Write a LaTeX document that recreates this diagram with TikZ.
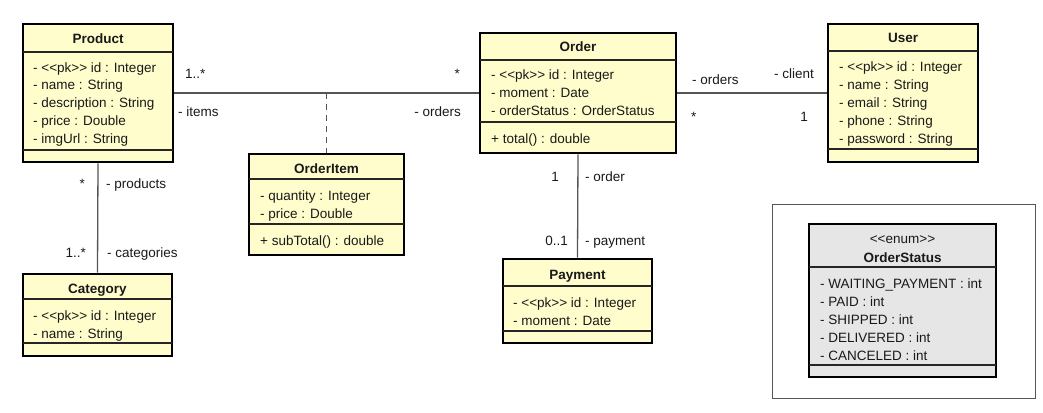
\documentclass[tikz,border=0pt]{standalone}
\usepackage{fontspec}
\setmainfont{Liberation Sans}[Ligatures=TeXOff]
\definecolor{clsfill}{RGB}{255,253,204}
\definecolor{enumfill}{RGB}{230,230,230}
\definecolor{lncol}{RGB}{85,85,85}
\definecolor{txt}{RGB}{25,25,25}
\begin{document}
\begin{tikzpicture}[x=1pt,y=-1pt,
  every node/.style={font=\fontsize{13.5pt}{18pt}\selectfont, text=txt},
  cls/.style={draw=black, line width=2.6pt, fill=clsfill, rectangle, inner sep=0pt},
  enumcls/.style={cls, fill=enumfill},
  sep/.style={draw=black!85, line width=1.2pt},
  attr/.style={anchor=base west, inner sep=0pt},
  ttl/.style={anchor=base, inner sep=0pt, font=\fontsize{13.5pt}{18pt}\selectfont\bfseries},
  lbl/.style={inner sep=0pt},
  assoc/.style={draw=lncol, line width=1.3pt}]
\useasboundingbox (0,0) rectangle (1043,412);

% ---------- Product
\node[cls, minimum width=150pt, minimum height=138pt] (prod) at (98,93) {};
\draw[sep] (23,52) -- (173,52);
\draw[sep] (23,150) -- (173,150);
\node[ttl] (prodt) at (98,44) {Product};
\node[attr] (prod1) at (33,72) {- <<pk>> id : Integer};
\node[attr] (prod2) at (33,89.5) {- name : String};
\node[attr] (prod3) at (33,107) {- description : String};
\node[attr] (prod4) at (33,125) {- price : Double};
\node[attr] (prod5) at (33,143) {- imgUrl : String};

% ---------- Order
\node[cls, minimum width=196pt, minimum height=120pt] (order) at (578,93) {};
\draw[sep] (480,60) -- (676,60);
\draw[sep] (480,122) -- (676,122);
\node[ttl] (ordert) at (578,52) {Order};
\node[attr] (order1) at (491,79) {- <<pk>> id : Integer};
\node[attr] (order2) at (491,97) {- moment : Date};
\node[attr] (order3) at (491,115) {- orderStatus : OrderStatus};
\node[attr] (order4) at (491,143) {+ total() : double};

% ---------- User
\node[cls, minimum width=150pt, minimum height=138pt] (user) at (903,93) {};
\draw[sep] (828,51) -- (978,51);
\draw[sep] (828,149) -- (978,149);
\node[ttl] (usert) at (903,43) {User};
\node[attr] (user1) at (839,71) {- <<pk>> id : Integer};
\node[attr] (user2) at (839,89) {- name : String};
\node[attr] (user3) at (839,107) {- email : String};
\node[attr] (user4) at (839,125) {- phone : String};
\node[attr] (user5) at (839,143) {- password : String};

% ---------- OrderItem
\node[cls, minimum width=155pt, minimum height=101pt] (oi) at (326.5,204.5) {};
\draw[sep] (249,179) -- (404,179);
\draw[sep] (249,224) -- (404,224);
\node[ttl] (oit) at (326.5,173) {OrderItem};
\node[attr] (oi1) at (260,200) {- quantity : Integer};
\node[attr] (oi2) at (260,218) {- price : Double};
\node[attr] (oi3) at (260,245) {+ subTotal() : double};

% ---------- Category
\node[cls, minimum width=149pt, minimum height=82pt] (cat) at (97.5,315) {};
\draw[sep] (23,299) -- (172,299);
\draw[sep] (23,343) -- (172,343);
\node[ttl] (catt) at (97.5,293) {Category};
\node[attr] (cat1) at (33,320) {- <<pk>> id : Integer};
\node[attr] (cat2) at (33,338) {- name : String};

% ---------- Payment
\node[cls, minimum width=149pt, minimum height=84pt] (pay) at (577.5,301) {};
\draw[sep] (503,286) -- (652,286);
\draw[sep] (503,331) -- (652,331);
\node[ttl] (payt) at (577.5,279) {Payment};
\node[attr] (pay1) at (513,307) {- <<pk>> id : Integer};
\node[attr] (pay2) at (513,325) {- moment : Date};

% ---------- OrderStatus (enum) in frame
\node[draw=lncol, line width=0.8pt, rectangle, inner sep=0pt, minimum width=263pt, minimum height=194pt] (frame) at (903.5,301) {};
\node[enumcls, minimum width=187pt, minimum height=153pt] (os) at (902.5,300.5) {};
\draw[sep] (809,267) -- (996,267);
\draw[sep] (809,365) -- (996,365);
\node[anchor=base, inner sep=0pt] (osst) at (902.5,243) {<<enum>>};
\node[ttl] (ost) at (902.5,262) {OrderStatus};
\node[attr] (os1) at (820,288) {- WAITING\_PAYMENT : int};
\node[attr] (os2) at (820,306) {- PAID : int};
\node[attr] (os3) at (820,324) {- SHIPPED : int};
\node[attr] (os4) at (820,342) {- DELIVERED : int};
\node[attr] (os5) at (820,360) {- CANCELED : int};

% ---------- Associations
\draw[assoc] (prod.east) -- coordinate[midway] (oimid) (order.west);
\draw[assoc, dash pattern=on 6pt off 5pt] (oimid) -- (oi.north);
\draw[assoc] (order.east) -- (user.west);
\draw[assoc] (prod.south) -- (cat.north);
\draw[assoc] (order.south) -- (pay.north);

% ---------- Association labels
\node[lbl, anchor=base west] (l1) at (185,78) {1..*};
\node[lbl, anchor=base west] (l2) at (178,116) {- items};
\node[lbl, anchor=base east] (l3) at (460,78) {*};
\node[lbl, anchor=base east] (l4) at (461,116) {- orders};
\node[lbl, anchor=base west] (l5) at (692,84) {- orders};
\node[lbl, anchor=base west] (l6) at (774,78) {- client};
\node[lbl, anchor=base west] (l7) at (691,121) {*};
\node[lbl, anchor=base] (l8) at (804,121) {1};
\node[lbl, anchor=base] (l9) at (555,181) {1};
\node[lbl, anchor=base west] (l10) at (585,181) {- order};
\node[lbl, anchor=base east] (l11) at (568,245) {0..1};
\node[lbl, anchor=base west] (l12) at (585,245) {- payment};
\node[lbl, anchor=base east] (l13) at (85,188) {*};
\node[lbl, anchor=base west] (l14) at (106,188) {- products};
\node[lbl, anchor=base east] (l15) at (86,257) {1..*};
\node[lbl, anchor=base west] (l16) at (107,257) {- categories};
\end{tikzpicture}
\end{document}
